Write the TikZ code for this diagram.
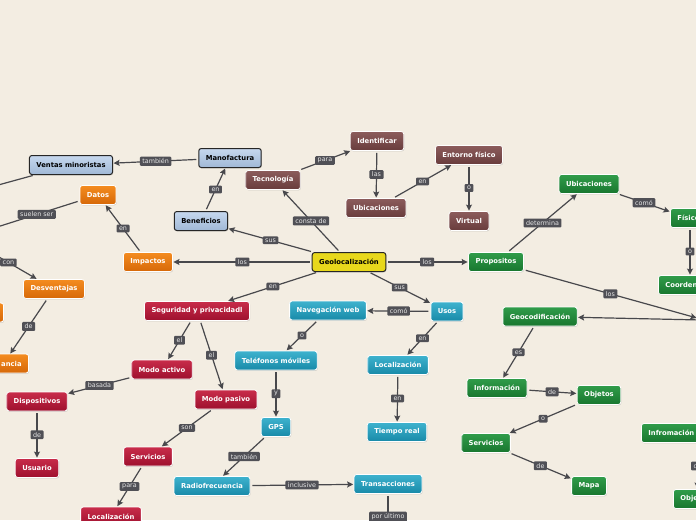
\documentclass[tikz,border=0pt]{standalone}
\usepackage{fontspec}
\setmainfont{DejaVu Sans}
\usetikzlibrary{arrows.meta,shadows,calc}
\definecolor{bg}{RGB}{243,237,226}
\definecolor{edgec}{RGB}{72,72,76}
\definecolor{lblfill}{RGB}{80,80,86}
\definecolor{lbltext}{RGB}{230,230,230}
\definecolor{yel}{RGB}{232,216,28}
\definecolor{blueA}{RGB}{198,216,238}
\definecolor{blueB}{RGB}{160,184,214}
\definecolor{oraA}{RGB}{244,140,32}
\definecolor{oraB}{RGB}{214,104,8}
\definecolor{broA}{RGB}{140,92,92}
\definecolor{broB}{RGB}{104,60,60}
\definecolor{greA}{RGB}{48,156,74}
\definecolor{greB}{RGB}{24,118,46}
\definecolor{teaA}{RGB}{62,178,206}
\definecolor{teaB}{RGB}{24,138,168}
\definecolor{redA}{RGB}{200,44,74}
\definecolor{redB}{RGB}{158,16,46}
\tikzset{
  box/.style={rounded corners=2.5pt, minimum height=19pt, inner xsep=7pt, inner ysep=2pt,
    font=\fontsize{6.8}{8}\selectfont\bfseries, text=white, draw=white, line width=0.8pt,
    drop shadow={opacity=0.3,shadow xshift=0.6pt,shadow yshift=-0.9pt}},
  bbox/.style={box, text=black, draw=black!85, line width=1pt, top color=blueA, bottom color=blueB},
  ybox/.style={box, text=black, draw=black!85, line width=1pt, fill=yel},
  obox/.style={box, top color=oraA, bottom color=oraB},
  brbox/.style={box, top color=broA, bottom color=broB},
  gbox/.style={box, top color=greA, bottom color=greB},
  tbox/.style={box, top color=teaA, bottom color=teaB},
  rbox/.style={box, top color=redA, bottom color=redB},
  lbl/.style={fill=lblfill, text=lbltext, font=\fontsize{6.4}{7.5}\selectfont, inner xsep=2.5pt,
    inner ysep=2pt, rounded corners=1pt, line width=0pt},
  conn/.style={draw=edgec, line width=1.2pt, -{Stealth[length=6pt,width=6pt,inset=1pt]},
    shorten >=0.5pt, shorten <=2pt},
  plainc/.style={draw=edgec, line width=1.2pt, shorten <=2pt},
}
\begin{document}
\begin{tikzpicture}[x=1pt,y=-1pt]
\useasboundingbox (0,0) rectangle (696,520);
\fill[bg] (0,0) rectangle (696,520);
\clip (0,0) rectangle (696,520);
% nodes
\node[ybox] (geo) at (349,262) {Geolocalización};
\node[bbox] (ven) at (71,165) {Ventas minoristas};
\node[bbox] (man) at (230,158) {Manofactura};
\node[bbox] (ben) at (201,221) {Beneficios};
\node[obox] (dat) at (98,195) {Datos};
\node[obox] (imp) at (148,262) {Impactos};
\node[obox] (des) at (54,289) {Desventajas};
\node[obox, anchor=east, text width=56pt, align=right] (anc) at (29,363.5) {ancia};
\node[obox, anchor=east, minimum width=50pt] (osl) at (4,312.5) {};
\node[brbox] (tec) at (273,180) {Tecnología};
\node[brbox] (ide) at (377,141) {Identificar};
\node[brbox] (ubb) at (376,208) {Ubicaciones};
\node[brbox] (ent) at (469,155) {Entorno físico};
\node[brbox] (vir) at (469,221) {Virtual};
\node[gbox] (pro) at (496,262) {Propositos};
\node[gbox] (ubg) at (589,184) {Ubicaciones};
\node[gbox, anchor=west] (fis) at (670,218) {Físico};
\node[gbox, anchor=west] (coo) at (658,285) {Coordenadas};
\node[gbox] (geoc) at (540,316.5) {Geocodificación};
\node[gbox] (inf) at (497,388) {Información};
\node[gbox] (obj) at (599,395) {Objetos};
\node[gbox] (serg) at (486,443) {Servicios};
\node[gbox] (mapa) at (589,486) {Mapa};
\node[gbox, anchor=west] (inf2) at (641,433) {Infromación};
\node[gbox, anchor=west] (obj2) at (673,499) {Objetos};
\node[tbox] (uso) at (447,311.5) {Usos};
\node[tbox] (nav) at (328,310.5) {Navegación web};
\node[tbox] (tel) at (276,360.5) {Teléfonos móviles};
\node[tbox] (gps) at (276,427) {GPS};
\node[tbox] (loct) at (398,365) {Localización};
\node[tbox] (tie) at (397,432) {Tiempo real};
\node[tbox] (rad) at (212,486) {Radiofrecuencia};
\node[tbox] (tra) at (388,484) {Transacciones};
\node[rbox] (seg) at (197,311) {Seguridad y privacidadl};
\node[rbox] (mac) at (162,369.5) {Modo activo};
\node[rbox] (mpa) at (226,399.5) {Modo pasivo};
\node[rbox] (dis) at (37,401.5) {Dispositivos};
\node[rbox] (usu) at (37,468) {Usuario};
\node[rbox] (serr) at (148,456.5) {Servicios};
\node[rbox] (locr) at (111,516.5) {Localización};
% off-picture ends
\coordinate (offA) at (-60,201);
\coordinate (offB) at (-6,228);
\coordinate (offC) at (-20,246);
\coordinate (offR) at (697,318);
\coordinate (offR2) at (702,320);
\coordinate (offD) at (388,540);
\coordinate (ancTop) at (10,354);
% connectors
\draw[conn] (geo) -- node[lbl]{consta de} (tec);
\draw[conn] (tec) -- node[lbl]{para} (ide);
\draw[conn] (ide) -- node[lbl]{las} (ubb);
\draw[conn] (ubb) -- node[lbl]{en} (ent);
\draw[conn] (ent) -- node[lbl]{o} (vir);
\draw[conn] (man) -- node[lbl]{también} (ven);
\draw[conn] (ben) -- node[lbl]{en} (man);
\draw[conn] (geo) -- node[lbl]{sus} (ben);
\draw[conn] (geo) -- node[lbl]{los} (imp);
\draw[conn] (imp) -- node[lbl]{en} (dat);
\draw[conn] (geo) -- node[lbl]{en} (seg);
\draw[conn] (geo) -- node[lbl]{sus} (uso);
\draw[conn] (geo) -- node[lbl]{los} (pro);
\draw[plainc] (ven) -- (offA);
\draw[plainc] (dat) -- node[lbl]{suelen ser} (offB);
\draw[conn] (offC) -- node[lbl]{con} (des);
\draw[conn] (des) -- node[lbl]{de} (ancTop);
\draw[conn] (pro) -- node[lbl]{determina} (ubg);
\draw[conn] (ubg) -- node[lbl]{comó} (fis);
\draw[conn] ([xshift=20pt]fis.south west) -- node[lbl]{o} ([xshift=32pt]coo.north west);
\draw[conn] (pro) -- node[lbl]{los} (offR);
\draw[conn] (offR2) -- (geoc);
\draw[conn] (geoc) -- node[lbl]{es} (inf);
\draw[conn] (inf) -- node[lbl]{de} (obj);
\draw[conn] (obj) -- node[lbl]{o} (serg);
\draw[conn] (serg) -- node[lbl]{de} (mapa);
\draw[conn] ([xshift=56.5pt]inf2.south west) -- node[lbl]{de} ([xshift=24.5pt]obj2.north west);
\draw[conn] (uso) -- node[lbl]{comó} (nav);
\draw[conn] (nav) -- node[lbl]{o} (tel);
\draw[conn] (tel) -- node[lbl]{y} (gps);
\draw[conn] (uso) -- node[lbl]{en} (loct);
\draw[conn] (loct) -- node[lbl]{en} (tie);
\draw[conn] (gps) -- node[lbl]{también} (rad);
\draw[conn] (rad) -- node[lbl]{inclusive} (tra);
\draw[conn] (tra) -- node[lbl]{por último} (offD);
\draw[conn] (seg) -- node[lbl]{el} (mac);
\draw[conn] (seg) -- node[lbl]{el} (mpa);
\draw[conn] (mac) -- node[lbl]{basada} (dis);
\draw[conn] (dis) -- node[lbl]{de} (usu);
\draw[conn] (mpa) -- node[lbl]{son} (serr);
\draw[conn] (serr) -- node[lbl]{para} (locr);
\end{tikzpicture}
\end{document}
